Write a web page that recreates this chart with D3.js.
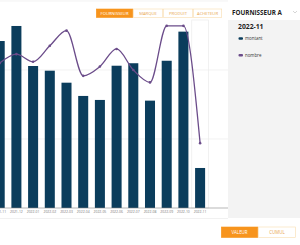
<!DOCTYPE html>
<html><head><meta charset="utf-8">
<script src="https://cdn.jsdelivr.net/npm/d3@7/dist/d3.min.js"></script>
<style>html,body{margin:0;padding:0;background:#fff;overflow:hidden}svg{display:block}</style>
</head><body>
<script>
const categories = ["2021-11","2021-12","2022-01","2022-02","2022-03","2022-04","2022-05","2022-06","2022-07","2022-08","2022-09","2022-10","2022-11"];
const montant = [121000,131900,102900,99500,90800,81200,78300,103100,104900,77800,106700,127800,29000];
const nombre = [420,446,424,470,514,383,410,461,400,364,528,528,188];
const gridValues = [0,50000,100000,150000];
const tabs = ["FOURNISSEUR","MARQUE","PRODUIT","ACHETEUR"];
const modes = ["VALEUR","CUMUL"];
const legendItems = ["montant","nombre"];

const W=300,H=245;
const svg=d3.select("body").append("svg").attr("width",W).attr("height",H);
const font="'Open Sans', sans-serif";
const orange="#f7941d", light="#f8dcae", barColor="#0b3d5c", lineColor="#6b4c8a";

const x=d3.scaleBand().domain(categories).range([-8.65,208.45]).paddingInner(0.4).paddingOuter(0.2);
const y=d3.scaleLinear().domain([0,150000]).range([208,1]);
const y2=d3.scaleLinear().domain([0,600]).range([208,1]);

svg.append("defs").append("clipPath").attr("id","c").append("rect").attr("x",0).attr("y",0).attr("width",228).attr("height",225);
const g=svg.append("g").attr("clip-path","url(#c)");

g.selectAll(".grid").data(gridValues.slice(1)).join("line")
 .attr("x1",0).attr("x2",228).attr("y1",d=>y(d)).attr("y2",d=>y(d))
 .attr("stroke","#ececec").attr("stroke-width",0.7);

const last=categories[categories.length-1];
g.append("rect").attr("x",x(last)-x.step()*x.paddingInner()/2).attr("y",20)
 .attr("width",x.step()).attr("height",188).attr("fill","none").attr("stroke","#ececec").attr("stroke-width",0.7);

g.selectAll(".bar").data(montant).join("rect")
 .attr("x",(d,i)=>x(categories[i])).attr("width",x.bandwidth())
 .attr("y",d=>y(d)).attr("height",d=>y(0)-y(d)).attr("fill",barColor);

const line=d3.line().x((d,i)=>x(categories[i])+x.bandwidth()/2).y(d=>y2(d)).curve(d3.curveMonotoneX);
g.append("path").datum(nombre).attr("d",line).attr("fill","none").attr("stroke",lineColor).attr("stroke-width",1.3);
g.selectAll(".pt").data(nombre).join("circle")
 .attr("cx",(d,i)=>x(categories[i])+x.bandwidth()/2).attr("cy",d=>y2(d)).attr("r",1.3).attr("fill",lineColor);

const ax=g.append("g").attr("transform","translate(0,208)").call(d3.axisBottom(x).tickSize(0).tickPadding(3));
ax.select(".domain").attr("stroke","#888").attr("stroke-width",0.6).attr("d","M0,0H228");
ax.selectAll("text").attr("font-size",3.4).attr("fill","#777").attr("font-family",font);

svg.append("line").attr("x1",0).attr("x2",228).attr("y1",218.5).attr("y2",218.5).attr("stroke","#eeeeee").attr("stroke-width",0.8);

const tabX=[96,133,163,193], tabW=[37,30,30,29];
tabs.forEach((t,i)=>{
  svg.append("rect").attr("x",tabX[i]+0.3).attr("y",9).attr("width",tabW[i]-0.6).attr("height",8.5)
   .attr("fill",i===0?orange:"#fff").attr("stroke",i===0?orange:light).attr("stroke-width",0.6);
  svg.append("text").attr("x",tabX[i]+tabW[i]/2).attr("y",14.6).attr("text-anchor","middle")
   .attr("font-size",4.2).attr("font-family",font).attr("fill",i===0?"#fff":"#e9a650").text(t);
});

svg.append("rect").attr("x",228).attr("y",20).attr("width",72).attr("height",198).attr("fill","#f3f3f3");
svg.append("text").attr("x",232).attr("y",14.5).attr("font-size",6.3).attr("font-weight",700).attr("font-family",font).attr("fill","#222").text("FOURNISSEUR A");
svg.append("path").attr("d","M293,11 L295,13 L297,11").attr("fill","none").attr("stroke","#bbb").attr("stroke-width",0.6);
svg.append("text").attr("x",238).attr("y",28.5).attr("font-size",6.8).attr("font-weight",700).attr("font-family",font).attr("fill","#222").text(last);
legendItems.forEach((t,i)=>{
  const yy=38.5+i*16.7;
  svg.append("rect").attr("x",238.5).attr("y",yy-1.2).attr("width",4.5).attr("height",2.4).attr("rx",1).attr("fill",i===0?barColor:lineColor);
  svg.append("text").attr("x",245).attr("y",yy+1.5).attr("font-size",4.4).attr("font-family",font).attr("fill","#333").text(t);
});

const mX=[221,258], mW=[37,38];
modes.forEach((t,i)=>{
  svg.append("rect").attr("x",mX[i]+0.3).attr("y",227).attr("width",mW[i]-0.6).attr("height",10.5)
   .attr("fill",i===0?orange:"#fff").attr("stroke",i===0?orange:light).attr("stroke-width",0.6);
  svg.append("text").attr("x",mX[i]+mW[i]/2).attr("y",233.8).attr("text-anchor","middle")
   .attr("font-size",4.4).attr("font-family",font).attr("fill",i===0?"#fff":"#e9a650").text(t);
});
</script>
</body></html>
